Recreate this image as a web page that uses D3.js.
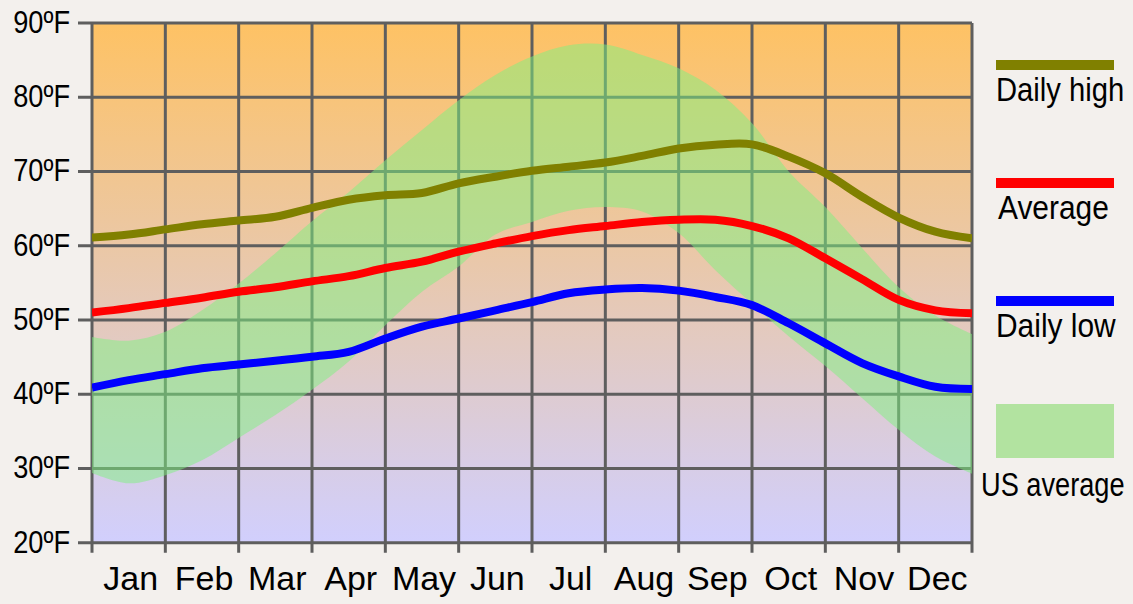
<!DOCTYPE html>
<html>
<head>
<meta charset="utf-8">
<script src="https://cdn.jsdelivr.net/npm/d3@7"></script>
<style>
    html, body { margin: 0; padding: 0; background: #f3f0ed; }
    svg { display: block; font-family: "Liberation Sans", Arial, sans-serif; }
</style>
</head>
<body>
<svg id="chart" width="1133" height="604"></svg>
<script>
"use strict";

// month positions, sampled every half month (0 = start of Jan, 12 = end of Dec)
const monthSteps = [0, 0.5, 1, 1.5, 2, 2.5, 3, 3.5, 4, 4.5, 5, 5.5, 6, 6.5, 7, 7.5, 8, 8.5, 9, 9.5, 10, 10.5, 11, 11.5, 12];
const dailyHigh = [61.1, 61.5, 62.2, 62.9, 63.4, 63.9, 65.1, 66.2, 66.8, 67.1, 68.4, 69.3, 70.1, 70.65, 71.2, 72.1, 73.1, 73.6, 73.65, 72.0, 69.75, 66.6, 63.8, 61.9, 61.0];
const average = [51.0, 51.6, 52.3, 53.0, 53.8, 54.4, 55.2, 55.9, 57.0, 57.85, 59.2, 60.3, 61.3, 62.1, 62.65, 63.2, 63.5, 63.5, 62.65, 61.0, 58.3, 55.5, 52.7, 51.3, 50.9];
const dailyLow = [40.9, 41.9, 42.7, 43.5, 44.0, 44.5, 45.05, 45.7, 47.5, 49.1, 50.2, 51.3, 52.4, 53.6, 54.1, 54.3, 53.95, 53.1, 52.0, 49.55, 46.85, 44.2, 42.4, 41.0, 40.7];
const usHigh = [47.7, 47.2, 48.4, 51.3, 54.9, 59.0, 63.3, 67.2, 71.5, 75.6, 79.6, 83.0, 85.5, 87.0, 87.1, 85.7, 83.9, 81.0, 76.5, 70.0, 65.2, 59.7, 54.4, 50.6, 48.1];
const usLow = [29.4, 28.0, 29.1, 31.1, 34.1, 37.2, 40.6, 44.4, 49.3, 53.8, 57.2, 61.5, 63.2, 64.7, 65.2, 64.6, 61.7, 56.7, 52.2, 47.8, 43.8, 39.5, 35.2, 31.6, 29.3];

const months = ["Jan", "Feb", "Mar", "Apr", "May", "Jun", "Jul", "Aug", "Sep", "Oct", "Nov", "Dec"];
const yTicks = [20, 30, 40, 50, 60, 70, 80, 90];

const seriesLines = [
    { name: "Daily high", values: dailyHigh, color: "#808000" },
    { name: "Average", values: average, color: "#ff0000" },
    { name: "Daily low", values: dailyLow, color: "#0000ff" }
];

const svg = d3.select("#chart");
const plot = { left: 92, right: 972, top: 23, bottom: 542.7 };

const x = d3.scaleLinear().domain([0, 12]).range([plot.left, plot.right]);
const y = d3.scaleLinear().domain([20, 90]).range([plot.bottom, plot.top]);

const defs = svg.append("defs");
const grad = defs.append("linearGradient")
    .attr("id", "bg")
    .attr("x1", 0).attr("y1", 0).attr("x2", 0).attr("y2", 1);
grad.append("stop").attr("offset", "0%").attr("stop-color", "#fec264");
grad.append("stop").attr("offset", "100%").attr("stop-color", "#d1cffd");

defs.append("clipPath").attr("id", "plotClip")
    .append("rect")
    .attr("x", plot.left).attr("y", plot.top)
    .attr("width", plot.right - plot.left).attr("height", plot.bottom - plot.top);

// background
svg.append("rect")
    .attr("x", plot.left).attr("y", plot.top)
    .attr("width", plot.right - plot.left).attr("height", plot.bottom - plot.top)
    .style("fill", "url(#bg)");

// grid lines, with small ticks sticking out left and below
const gridColor = "#5e5e5e";
svg.append("g").selectAll("line").data(yTicks).enter()
    .append("line")
    .attr("x1", plot.left - 14).attr("x2", plot.right)
    .attr("y1", d => y(d)).attr("y2", d => y(d))
    .style("stroke", gridColor).style("stroke-width", 3);
svg.append("g").selectAll("line").data(d3.range(13)).enter()
    .append("line")
    .attr("x1", d => x(d)).attr("x2", d => x(d))
    .attr("y1", plot.top).attr("y2", plot.bottom + 10)
    .style("stroke", gridColor).style("stroke-width", 3);

const plotArea = svg.append("g").attr("clip-path", "url(#plotClip)");

// US average band
const band = d3.area()
    .x((d, i) => x(monthSteps[i]))
    .y0((d, i) => y(usLow[i]))
    .y1((d, i) => y(usHigh[i]))
    .curve(d3.curveCatmullRom);
plotArea.append("path")
    .datum(monthSteps)
    .attr("d", band)
    .style("fill", "rgb(125,242,128)")
    .style("fill-opacity", 0.5);

// temperature lines
const line = d3.line()
    .x((d, i) => x(monthSteps[i]))
    .y(d => y(d))
    .curve(d3.curveCatmullRom);
plotArea.selectAll(".series").data(seriesLines).enter()
    .append("path")
    .attr("class", "series")
    .attr("d", d => line(d.values))
    .style("fill", "none")
    .style("stroke", d => d.color)
    .style("stroke-width", 8);

// y labels
svg.append("g").selectAll("text").data(yTicks).enter()
    .append("text")
    .attr("transform", d => "translate(70," + (y(d) + 10) + ") scale(0.85,1)")
    .attr("text-anchor", "end")
    .style("font-size", "32px")
    .style("fill", "#000")
    .text(d => d + "ºF");

// month labels
svg.append("g").selectAll("text").data(months).enter()
    .append("text")
    .attr("x", (d, i) => x(i + 0.5) + 2)
    .attr("y", 590)
    .attr("text-anchor", "middle")
    .style("font-size", "34px")
    .style("fill", "#000")
    .text(d => d);

// legend
const legend = svg.append("g");
const legendItems = [
    { name: "Daily high", color: "#808000", top: 60, h: 10, textX: 996, textY: 101, sx: 0.86 },
    { name: "Average", color: "#ff0000", top: 178, h: 10, textX: 998, textY: 219, sx: 0.88 },
    { name: "Daily low", color: "#0000ff", top: 296, h: 10, textX: 996, textY: 337, sx: 0.88 },
    { name: "US average", color: "#b2e3a0", top: 404, h: 54, textX: 981, textY: 496, sx: 0.8 }
];
legend.selectAll("rect").data(legendItems).enter()
    .append("rect")
    .attr("x", 996).attr("y", d => d.top)
    .attr("width", 118).attr("height", d => d.h)
    .style("fill", d => d.color);
legend.selectAll("text").data(legendItems).enter()
    .append("text")
    .attr("transform", d => "translate(" + d.textX + "," + d.textY + ") scale(" + d.sx + ",1)")
    .style("font-size", "34px")
    .style("fill", "#000")
    .text(d => d.name);
</script>
</body>
</html>
